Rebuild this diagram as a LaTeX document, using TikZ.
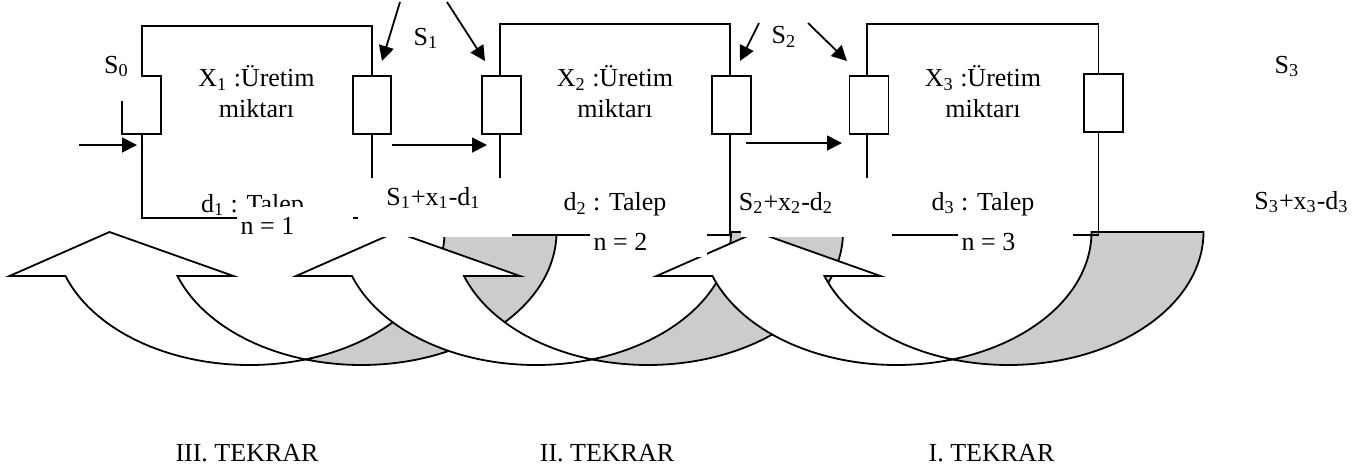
\documentclass[tikz,border=0pt]{standalone}
\usepackage{fontspec}
\setmainfont{Liberation Serif}
\usetikzlibrary{arrows.meta}

\tikzset{
  wire/.style={line width=0.9pt},
  feed/.style={line width=0.9pt, -{Triangle[length=7.5pt,width=7.5pt]}},
  mask/.style={fill=white, draw=none},
  lbl/.style={font=\fontsize{13pt}{15pt}\selectfont, inner sep=0pt, anchor=base},
  lens/.style={fill=black!20, draw=black, line width=0.9pt},
  band/.style={fill=white, draw=black, line width=0.9pt},
}

% Curved return arrow: two equal half-ellipses (radii 195 x 133) hung from y=232,
% offset by the band width 112; #1 is the centre x of the outer ellipse.
\newcommand\turnarrow[1]{%
  \pgfmathsetmacro\taCA{#1}%
  \pgfmathsetmacro\taCB{#1-112}%
  \pgfmathsetmacro\taTb{180-asin(44/133)}%
  \pgfmathsetmacro\taTi{acos(-56/195)}%
  \pgfmathsetmacro\taTj{180-\taTi}%
  \pgfmathsetmacro\taXa{\taCA+195*cos(\taTb)}%
  \pgfmathsetmacro\taXb{\taCB+195*cos(\taTb)}%
  \pgfmathsetmacro\taXt{(\taXa+\taXb)/2-12}%
  % shaded back part of the band
  \filldraw[lens] plot[domain=\taTi:0,samples=60] ({\taCA+195*cos(\x)},{232+133*sin(\x)})
     -- plot[domain=0:\taTj,samples=60] ({\taCB+195*cos(\x)},{232+133*sin(\x)}) -- cycle;
  % white front part with the upward head
  \filldraw[band] plot[domain=\taTb:\taTi,samples=60] ({\taCA+195*cos(\x)},{232+133*sin(\x)})
     -- plot[domain=\taTj:\taTb,samples=80] ({\taCB+195*cos(\x)},{232+133*sin(\x)})
     -- (\taXb-56,276) -- (\taXt,232) -- (\taXa+56,276) -- cycle;
}

\begin{document}
\begin{tikzpicture}[x=0.5pt, y=-0.5pt]
\useasboundingbox (0,0) rectangle (1370,473);

% return arrows, each one laid over the previous
\turnarrow{361.5}
\turnarrow{648}
\turnarrow{1008.5}

% stage 1 frame
\draw[wire] (142,76) -- (142,26) -- (372,26) -- (372,76);
\draw[wire] (142,134) -- (142,218) -- (372,218) -- (372,134);
\draw[wire] (122,76) rectangle (161,134);
\draw[wire] (353,76) rectangle (391,134);
% stage 2 frame
\draw[wire] (500,76) -- (500,24) -- (730,24) -- (730,76);
\draw[wire] (500,134) -- (500,235) -- (730,235) -- (730,134);
\draw[wire] (482,76) rectangle (521,134);
\draw[wire] (712,76) rectangle (751,134);
% stage 3 frame
\draw[wire] (867,76) -- (867,24) -- (1098.5,24) -- (1098.5,74);
\draw[wire] (867,134) -- (867,235) -- (1098.5,235) -- (1098.5,132);
\draw[wire] (849.5,76) rectangle (888.5,134);
\draw[wire] (1084,74) rectangle (1123,132);

% flows between the stages
\coordinate (in0a) at (79,145);   \coordinate (in0b) at (137,145);
\coordinate (f12a) at (392,145);  \coordinate (f12b) at (487,145);
\coordinate (f23a) at (746,143);  \coordinate (f23b) at (842,143);
\coordinate (s1la) at (400,2);    \coordinate (s1lb) at (382,61);
\coordinate (s1ra) at (447,2);    \coordinate (s1rb) at (485,61);
\coordinate (s2la) at (759,23);   \coordinate (s2lb) at (740,61);
\coordinate (s2ra) at (808,23);   \coordinate (s2rb) at (847,61);
\draw[feed] (in0a) -- (in0b);
\draw[feed] (f12a) -- (f12b);
\draw[feed] (f23a) -- (f23b);
\draw[feed] (s1la) -- (s1lb);
\draw[feed] (s1ra) -- (s1rb);
\draw[feed] (s2la) -- (s2lb);
\draw[feed] (s2ra) -- (s2rb);

% demand label of stage 1 sits under the stage-number box
\node[lbl] (d1) at (252.5,212) {d\textsubscript{1} : Talep};

% white text boxes
\fill[mask] (85,40) rectangle (141,100.5);
\fill[mask] (358,178) rectangle (512,236.5);
\fill[mask] (237,207) rectangle (353,242);
\fill[mask] (512,178) rectangle (728.5,233.5);
\fill[mask] (590,222) rectangle (707,257);
\fill[mask] (741,178) rectangle (892,236.5);
\fill[mask] (958,222) rectangle (1073,257);

% labels
\node[lbl] (s0) at (116.5,73) {S\textsubscript{0}};
\node[lbl] (s1) at (426,45) {S\textsubscript{1}};
\node[lbl] (s2) at (784,43.5) {S\textsubscript{2}};
\node[lbl] (s3) at (1287,73) {S\textsubscript{3}};

\node[lbl] (x1) at (256.5,86.5) {X\textsubscript{1} :Üretim};
\node[lbl] (m1) at (256.5,117) {miktarı};
\node[lbl] (x2) at (615,86.5) {X\textsubscript{2} :Üretim};
\node[lbl] (m2) at (615,117) {miktarı};
\node[lbl] (x3) at (983,86.5) {X\textsubscript{3} :Üretim};
\node[lbl] (m3) at (983,117) {miktarı};

\node[lbl] (r1) at (433.5,205) {S\textsubscript{1}+x\textsubscript{1}-d\textsubscript{1}};
\node[lbl] (d2) at (615,210.5) {d\textsubscript{2} : Talep};
\node[lbl] (r2) at (786,210) {S\textsubscript{2}+x\textsubscript{2}-d\textsubscript{2}};
\node[lbl] (d3) at (983,210) {d\textsubscript{3} : Talep};
\node[lbl] (r3) at (1301.5,209) {S\textsubscript{3}+x\textsubscript{3}-d\textsubscript{3}};

\node[lbl] (n1) at (267.5,234) {n = 1};
\node[lbl] (n2) at (620.5,250) {n = 2};
\node[lbl] (n3) at (988.5,250) {n = 3};

\node[lbl] (t3) at (247,461.5) {III. TEKRAR};
\node[lbl] (t2) at (607,461.5) {II. TEKRAR};
\node[lbl] (t1) at (991.5,461.5) {I. TEKRAR};
\end{tikzpicture}
\end{document}
